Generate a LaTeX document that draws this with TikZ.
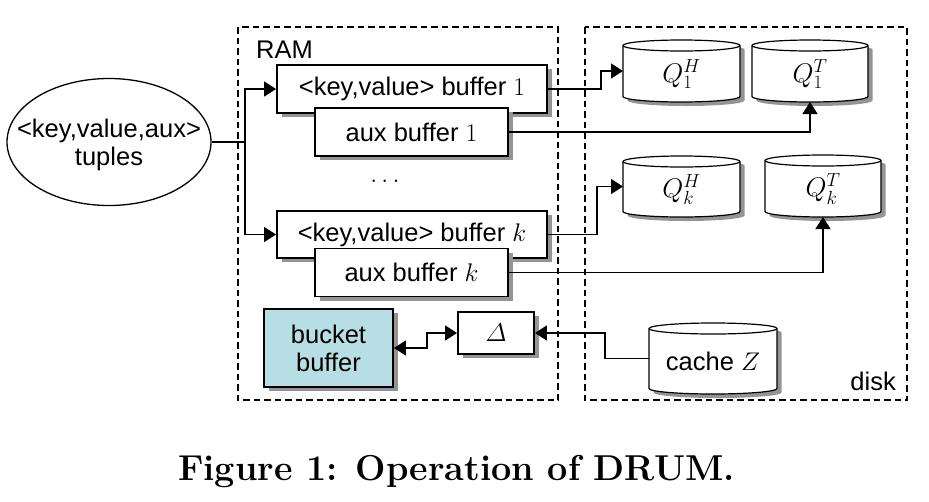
\RequirePackage{fix-cm}
\documentclass[tikz,border=0pt]{standalone}
\usepackage{amsmath}
\usepackage{fontspec}
\newfontfamily\diag{Liberation Sans}
\usetikzlibrary{shapes.geometric,arrows.meta,shadows}
\definecolor{bucketcol}{RGB}{183,221,229}
\colorlet{shadowgray}{black!42}
\newcommand\cylpath[2]{([yshift=-5.5pt]#1.north west) -- ([yshift=5.5pt]#1.south west) arc[start angle=180,end angle=360,x radius=#2pt/2,y radius=5.5pt] -- ([yshift=-5.5pt]#1.north east) arc[start angle=0,end angle=180,x radius=#2pt/2,y radius=5.5pt] -- cycle}
\newcommand\dbcyl[6]{%
  \node[cylhold,minimum width=#3pt,minimum height=#4pt] (#1) at (#2) {};
  \fill[shadowgray,transform canvas={shift={(4.5pt,-4pt)}}] \cylpath{#1}{#3};
  \filldraw[cylline] \cylpath{#1}{#3};
  \draw[cylline] ([yshift=-5.5pt]#1.north west) arc[start angle=180,end angle=360,x radius=#3pt/2,y radius=5.5pt];
  \node[txt,#6] (#1-l) at ([yshift=-3pt]#1.center) {#5};
}
\begin{document}
\begin{tikzpicture}[x=1pt,y=1pt,
  txt/.style={font=\diag\fontsize{25.5}{28}\selectfont, inner sep=0pt, align=center},
  bigmath/.style={font=\diag\fontsize{27}{30}\selectfont},
  bufbox/.style={txt,draw,line width=1.9pt,fill=white,
    drop shadow={shadow xshift=4.5pt,shadow yshift=-4pt,fill=shadowgray,opacity=1}},
  cylhold/.style={inner sep=0pt,outer sep=0pt},
  cylline/.style={draw=black,fill=white,line width=1.2pt},
  memzone/.style={draw,line width=1.4pt,dash pattern=on 6.5pt off 4pt},
  conn/.style={line width=1.4pt},
  arr/.style={conn,-{Triangle[length=12pt,width=15pt]}},
  dblarr/.style={conn,{Triangle[length=12pt,width=15pt]}-{Triangle[length=12pt,width=15pt]}}
]
\useasboundingbox (0,0) rectangle (929,-501);
\fill[white] (0,0) rectangle (929,-501);

% memory regions
\draw[memzone] (238,-27) rectangle (558,-400);
\draw[memzone] (585,-27) rectangle (907,-400);
\node[txt,anchor=base west] (ramlbl) at (256,-58) {RAM};
\node[txt,anchor=base east] (disklbl) at (896,-390) {disk};

% input tuples
\node[ellipse,draw,line width=1.3pt,inner sep=0pt,minimum width=204pt,minimum height=127pt] (tup) at (109,-142) {};
\node[txt] (tup-l) at (109,-145) {<key,value,aux>\\tuples};

% buffers
\node[bufbox,minimum width=270pt,minimum height=48pt] (kv1) at (412,-89) {<key,value> buffer $1$};
\node[bufbox,minimum width=193pt,minimum height=48pt] (aux1) at (411.5,-132) {aux buffer $1$};
\node[txt] (dots) at (385,-181) {$\ldots$};
\node[bufbox,minimum width=270pt,minimum height=47pt] (kvk) at (412,-234.5) {<key,value> buffer $k$};
\node[bufbox,minimum width=193pt,minimum height=48pt] (auxk) at (411.5,-272.5) {aux buffer $k$};
\node[bufbox,fill=bucketcol,minimum width=129pt,minimum height=78pt] (bucket) at (328.5,-348) {bucket\\buffer};
\node[bufbox,minimum width=76pt,minimum height=42pt] (delta) at (496,-333) {$\varDelta$};

% disk files
\dbcyl{q1h}{681.5,-71}{117}{62}{$Q_1^H$}{bigmath}
\dbcyl{q1t}{810,-71}{116}{62}{$Q_1^T$}{bigmath}
\dbcyl{qkh}{681.5,-186.5}{117}{61}{$Q_k^H$}{bigmath}
\dbcyl{qkt}{823,-186}{116}{62}{$Q_k^T$}{bigmath}
\dbcyl{cz}{713,-358.5}{128}{71}{cache $Z$}{}

% connectors
\coordinate (j) at (245,-142);
\draw[conn] (tup.east) -- (j);
\draw[arr] (j) |- (kv1.west);
\draw[arr] (j) |- (kvk.west);
\draw[arr] (kv1.east) -- ++(53,0) |- (q1h.west);
\draw[arr] (aux1.east) -| (q1t.south);
\draw[arr] (kvk.east) -- ++(49,0) |- (qkh.west);
\draw[arr] (auxk.east) -| (qkt.south);
\draw[dblarr] (bucket.east) -- ++(33,0) |- (delta.west);
\draw[arr] (cz.west) -- ++(-44,0) |- (delta.east);

% caption
\node[font=\bfseries\fontsize{36}{40}\selectfont,inner sep=0pt,anchor=base] (cap) at (456.5,-480) {Figure 1: Operation of DRUM.};
\end{tikzpicture}
\end{document}
